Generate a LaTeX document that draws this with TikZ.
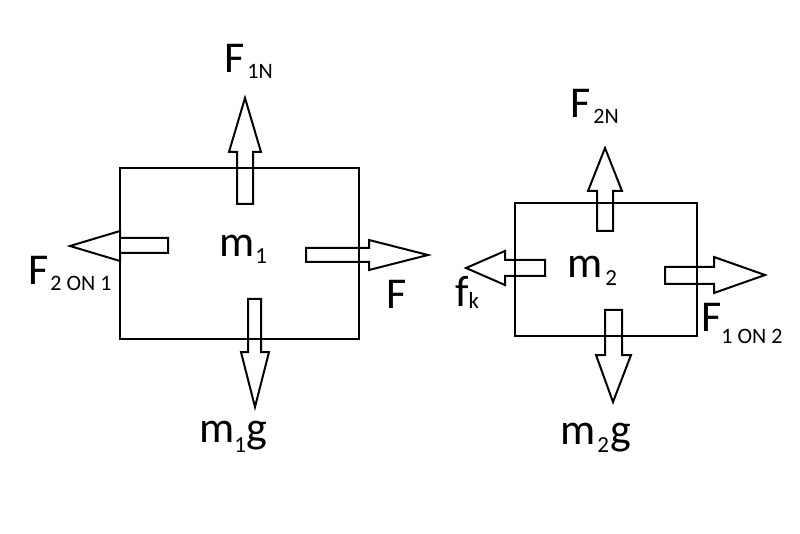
\documentclass[tikz,border=0pt]{standalone}
\usepackage{fontspec}
\setmainfont{Carlito}
\newcommand\bigtxt{\fontsize{44}{44}\selectfont}
\newcommand\subtxt{\fontsize{22}{22}\selectfont}
\newcommand\smsub{\fontsize{23}{23}\selectfont}
\begin{document}
\begin{tikzpicture}[x=1pt,y=-1pt,
  fb/.style={draw=black,line width=2pt},
  arr/.style={draw=black,line width=2pt,line join=miter},
  lab/.style={anchor=base west,inner sep=0pt,font=\bigtxt}]
\useasboundingbox (0,0) rectangle (800,534);
\fill[white] (0,0) rectangle (800,534);
% boxes
\draw[fb] (120,168) rectangle (359,339);
\draw[fb] (515,203) rectangle (697,336);
% block 1 arrows
\draw[arr] (237,204) -- (237,152) -- (229,152) -- (245,98) -- (261,152) -- (253,152) -- (253,204) -- cycle;
\draw[arr] (168,238) -- (120,238) -- (120,231) -- (70,246) -- (120,261) -- (120,253) -- (168,253) -- cycle;
\draw[arr] (306,248) -- (369,248) -- (369,240) -- (428,255) -- (369,270) -- (369,262) -- (306,262) -- cycle;
\draw[arr] (248,299) -- (248,352) -- (241,352) -- (255,407) -- (269,352) -- (261,352) -- (261,299) -- cycle;
% block 2 arrows
\draw[arr] (597,231) -- (597,191) -- (588,191) -- (605,148) -- (622,191) -- (613,191) -- (613,231) -- cycle;
\draw[arr] (545,260) -- (505,260) -- (505,251) -- (466,268) -- (505,285) -- (505,276) -- (545,276) -- cycle;
\draw[arr] (665,267) -- (714,267) -- (714,257) -- (765,275) -- (714,293) -- (714,284) -- (665,284) -- cycle;
\draw[arr] (605,310) -- (605,355) -- (596,355) -- (613,402) -- (631,355) -- (622,355) -- (622,310) -- cycle;
% labels block 1
\node[lab] (f1n) at (224,73) {F\hspace{3pt}{\subtxt\raisebox{-6pt}{1N}}};
\node[lab] (f21) at (28,285) {F\hspace{2pt}{\subtxt\raisebox{-6pt}{2 ON 1}}};
\node[lab] (m1) at (219,257) {m\hspace{1pt}{\smsub\raisebox{-7pt}{1}}};
\node[lab] (fa) at (386,309) {F};
\node[lab] (m1g) at (199,442) {m{\smsub\raisebox{-10pt}{1}}g};
% labels block 2
\node[lab] (f2n) at (570,118) {F\hspace{3pt}{\subtxt\raisebox{-6pt}{2N}}};
\node[lab] (fk) at (455,307) {f{\smsub\raisebox{-2pt}{k}}};
\node[lab] (m2) at (567,278) {m\hspace{3pt}{\smsub\raisebox{-8pt}{2}}};
\node[lab] (f12) at (701,332) {F{\subtxt\raisebox{-12pt}{1 ON 2}}};
\node[lab] (m2g) at (560,444) {m\hspace{2pt}{\smsub\raisebox{-8pt}{2}}\hspace{1pt}g};
\end{tikzpicture}
\end{document}
